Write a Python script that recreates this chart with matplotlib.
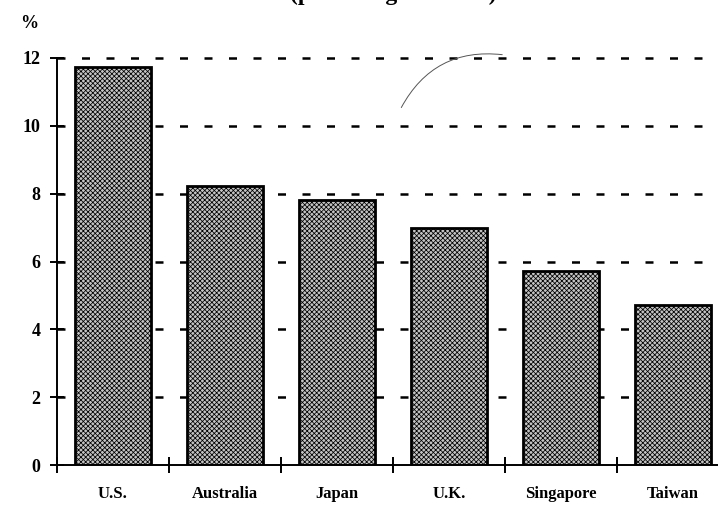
import numpy as np
import matplotlib
matplotlib.use('Agg')
import matplotlib.pyplot as plt

countries = ['U.S.', 'Australia', 'Japan', 'U.K.', 'Singapore', 'Taiwan']
values = [11.73, 8.24, 7.8, 7.0, 5.73, 4.73]
yticks = [0, 2, 4, 6, 8, 10, 12]

plt.rcParams['font.family'] = ['Liberation Serif', 'DejaVu Serif']
plt.rcParams['hatch.color'] = '#2a2a2a'
plt.rcParams['hatch.linewidth'] = 0.55

fig = plt.figure(figsize=(7.18, 5.11), dpi=100)
ax = fig.add_axes([57 / 718, 46 / 511, 672 / 718, 407 / 511])

x = np.arange(len(countries))
ax.bar(x, values, width=0.67, facecolor='#c4c4c4', edgecolor='black',
       linewidth=2.0, hatch='xxxxxxx', zorder=3)

# dashed gridlines behind bars
for v in yticks[1:]:
    ax.axhline(v, color='black', linestyle=(0, (3.2, 6.6)), linewidth=1.8,
               zorder=1, clip_on=False)

ax.set_xlim(-0.5, len(countries) - 0.5)
ax.set_ylim(0, 12)
ax.spines['top'].set_visible(False)
ax.spines['right'].set_visible(False)
ax.spines['left'].set_linewidth(1.4)
ax.spines['bottom'].set_linewidth(1.4)
ax.spines['left'].set_zorder(4)
ax.spines['bottom'].set_zorder(4)

ax.set_yticks(yticks)
ax.set_yticklabels([str(t) for t in yticks], fontsize=13, fontweight='bold')
ax.tick_params(axis='y', direction='inout', length=10, width=1.4, pad=7)

ax.set_xticks(np.arange(len(countries)) - 0.5)
ax.set_xticklabels([])
ax.tick_params(axis='x', which='major', direction='inout', length=12, width=1.4)
ax.set_xticks(x, minor=True)
ax.set_xticklabels(countries, minor=True, fontsize=12, fontweight='bold')
ax.tick_params(axis='x', which='minor', length=0, pad=15)

fig.text(20 / 718, 1 - 24 / 511, '%', fontsize=13, fontweight='bold',
         ha='left', va='center')

# title cut off by the page edge
fig.text(290 / 718, 1.0, '(percentage of GDP)', fontsize=17,
         fontweight='bold', ha='left', va='baseline')

# stray pen stroke
ax.annotate('', xy=(505 / 718, 1 - 55 / 511), xycoords='figure fraction',
            xytext=(400 / 718, 1 - 110 / 511), textcoords='figure fraction',
            arrowprops=dict(arrowstyle='-', color='#555555', lw=0.7,
                            connectionstyle='arc3,rad=-0.35'))

fig.savefig('out.png', dpi=100)
